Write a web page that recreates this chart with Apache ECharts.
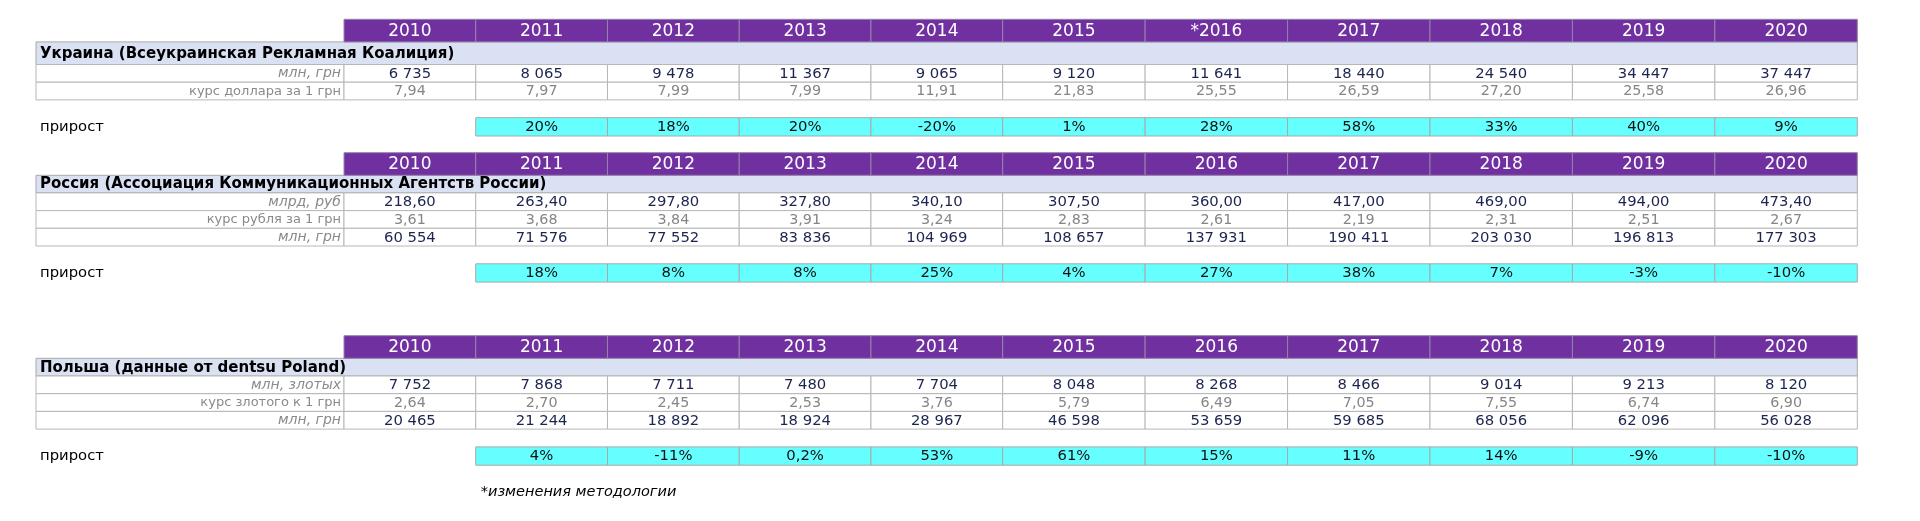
<!DOCTYPE html>
<html lang="ru">

<head>
    <meta charset="UTF-8">
    <style>
    html,
    body {
        height: 100%;
        margin: 0;
        background: #fff;
    }
  </style>
</head>

<body>
<div id="chart" style="width:1920px;height:521px;"></div>
<script src="https://cdn.jsdelivr.net/npm/echarts@6/dist/echarts.min.js"></script>
<script>
    // --- данные ---
    var years = ['2010', '2011', '2012', '2013', '2014', '2015', '2016', '2017', '2018', '2019', '2020'];
    var uaYearLabels = ['2010', '2011', '2012', '2013', '2014', '2015', '*2016', '2017', '2018', '2019', '2020'];

    var uaMln = [6735, 8065, 9478, 11367, 9065, 9120, 11641, 18440, 24540, 34447, 37447];
    var uaRate = [7.94, 7.97, 7.99, 7.99, 11.91, 21.83, 25.55, 26.59, 27.20, 25.58, 26.96];
    var uaGrowth = [null, 20, 18, 20, -20, 1, 28, 58, 33, 40, 9];

    var ruRub = [218.60, 263.40, 297.80, 327.80, 340.10, 307.50, 360.00, 417.00, 469.00, 494.00, 473.40];
    var ruRate = [3.61, 3.68, 3.84, 3.91, 3.24, 2.83, 2.61, 2.19, 2.31, 2.51, 2.67];
    var ruUah = [60554, 71576, 77552, 83836, 104969, 108657, 137931, 190411, 203030, 196813, 177303];
    var ruGrowth = [null, 18, 8, 8, 25, 4, 27, 38, 7, -3, -10];

    var plPln = [7752, 7868, 7711, 7480, 7704, 8048, 8268, 8466, 9014, 9213, 8120];
    var plRate = [2.64, 2.70, 2.45, 2.53, 3.76, 5.79, 6.49, 7.05, 7.55, 6.74, 6.90];
    var plUah = [20465, 21244, 18892, 18924, 28967, 46598, 53659, 59685, 68056, 62096, 56028];
    var plGrowth = [null, 4, -11, 0.2, 53, 61, 15, 11, 14, -9, -10];

    var growthLabel = 'прирост';
    var footnote = '*изменения методологии';

    // --- форматирование ---
    function fmtInt(v) {
        return String(v).replace(/\B(?=(\d{3})+(?!\d))/g, ' ');
    }
    function fmtDec(v) {
        return v.toFixed(2).replace('.', ',');
    }
    function fmtPct(v) {
        return String(v).replace('.', ',') + '%';
    }

    var sections = [
        {
            title: 'Украина (Всеукраинская Рекламная Коалиция)',
            heads: uaYearLabels,
            rows: [
                { label: 'млн, грн', italic: true, values: uaMln, fmt: fmtInt, dark: true },
                { label: 'курс доллара за 1 грн', values: uaRate, fmt: fmtDec }
            ],
            growth: uaGrowth
        },
        {
            title: 'Россия (Ассоциация Коммуникационных Агентств России)',
            heads: years,
            rows: [
                { label: 'млрд, руб', italic: true, values: ruRub, fmt: fmtDec, dark: true },
                { label: 'курс рубля за 1 грн', values: ruRate, fmt: fmtDec },
                { label: 'млн, грн', italic: true, values: ruUah, fmt: fmtInt, dark: true }
            ],
            growth: ruGrowth
        },
        {
            title: 'Польша (данные от dentsu Poland)',
            heads: years,
            rows: [
                { label: 'млн, злотых', italic: true, values: plPln, fmt: fmtInt, dark: true },
                { label: 'курс злотого к 1 грн', values: plRate, fmt: fmtDec },
                { label: 'млн, грн', italic: true, values: plUah, fmt: fmtInt, dark: true }
            ],
            growth: plGrowth
        }
    ];

    // --- разметка (px по вертикали) ---
    var FONT = '"DejaVu Sans", Verdana, sans-serif';
    var sectionTops = [19.3, 152.7, 335.7];
    var titleHeights = [22.6, 17.6, 17.7];
    var HEAD_H = 22.6, ROW_H = 17.7, GAP_H = 17.8, GROW_H = 18.3;
    var SPLIT = 5; // 2010-2014 уже, чем 2015-2020

    var kinds = {
        head: { fill: '#7030a0', stroke: '#9582ab', color: '#fff', font: '17px ' + FONT },
        title: { fill: '#dae1f2', stroke: '#a9a9a9', color: '#000', font: 'bold 15px ' + FONT, align: 'left', pad: 4 },
        label: { fill: '#fff', stroke: '#b7b7b7', color: '#8a8a8a', font: '13px ' + FONT, align: 'right', pad: 3 },
        labelItalic: { fill: '#fff', stroke: '#b7b7b7', color: '#8a8a8a', font: 'italic 14px ' + FONT, align: 'right', pad: 3 },
        dark: { fill: '#fff', stroke: '#b7b7b7', color: '#1c2550', font: '14.8px ' + FONT },
        gray: { fill: '#fff', stroke: '#b7b7b7', color: '#858585', font: '14.3px ' + FONT },
        growth: { fill: '#66ffff', stroke: '#a9a9a9', color: '#111', font: '14.8px ' + FONT },
        plain: { color: '#000', font: '14.8px ' + FONT, align: 'left', pad: 4 },
        note: { color: '#000', font: 'italic 14.5px ' + FONT, align: 'left', pad: 5 }
    };

    var items = { label: [], a: [], b: [], full: [] };

    function yearCell(col, top, h, text, kind) {
        if (col < SPLIT) items.a.push({ col: col, top: top, h: h, text: text, kind: kind });
        else items.b.push({ col: col - SPLIT, top: top, h: h, text: text, kind: kind });
    }

    var lastBottom = 0;
    sections.forEach(function (s, si) {
        var y = sectionTops[si];
        s.heads.forEach(function (t, i) { yearCell(i, y, HEAD_H, t, 'head'); });
        y += HEAD_H;
        items.full.push({ col: 0, top: y, h: titleHeights[si], text: s.title, kind: 'title' });
        y += titleHeights[si];
        s.rows.forEach(function (r) {
            items.label.push({ col: 0, top: y, h: ROW_H, text: r.label, kind: r.italic ? 'labelItalic' : 'label' });
            r.values.forEach(function (v, i) { yearCell(i, y, ROW_H, r.fmt(v), r.dark ? 'dark' : 'gray'); });
            y += ROW_H;
        });
        y += GAP_H;
        items.label.push({ col: 0, top: y, h: GROW_H, text: growthLabel, kind: 'plain' });
        s.growth.forEach(function (v, i) {
            if (v !== null) yearCell(i, y, GROW_H, fmtPct(v), 'growth');
        });
        lastBottom = y + GROW_H;
    });
    items.a.push({ col: 1, top: lastBottom + 17, h: 20, text: footnote, kind: 'note' });

    function makeRender(list) {
        return function (params, api) {
            var it = list[params.dataIndex];
            var st = kinds[it.kind];
            var c = api.coord([api.value(0), api.value(1)]);
            var bw = api.size([1, 0])[0];
            var h = api.size([0, api.value(2)])[1];
            var x0 = c[0] - bw / 2;
            var y0 = c[1];
            var children = [];
            if (st.fill) {
                children.push({
                    type: 'rect',
                    shape: { x: x0, y: y0, width: bw, height: h },
                    style: { fill: st.fill, stroke: st.stroke, lineWidth: 1 }
                });
            }
            var align = st.align || 'center';
            var tx = align === 'left' ? x0 + st.pad : (align === 'right' ? x0 + bw - st.pad : c[0]);
            children.push({
                type: 'text',
                style: {
                    text: it.text, x: tx, y: y0 + h / 2 + 0.5,
                    align: align, verticalAlign: 'middle',
                    font: st.font, fill: st.color
                }
            });
            return { type: 'group', children: children };
        };
    }

    function toData(list) {
        return list.map(function (it) { return [it.col, it.top, it.h]; });
    }

    var grids = [
        { left: 36, width: 1821.3, top: 0, height: 521 },   // строка заголовка
        { left: 36, width: 308, top: 0, height: 521 },      // подписи
        { left: 344, width: 658.7, top: 0, height: 521 },   // 2010-2014
        { left: 1002.7, width: 854.6, top: 0, height: 521 } // 2015-2020
    ];

    var myChart = echarts.init(document.getElementById('chart'));
    myChart.setOption({
        animation: false,
        grid: grids,
        xAxis: [
            { gridIndex: 0, type: 'category', data: [''], show: false },
            { gridIndex: 1, type: 'category', data: [''], show: false },
            { gridIndex: 2, type: 'category', data: years.slice(0, SPLIT), show: false },
            { gridIndex: 3, type: 'category', data: years.slice(SPLIT), show: false }
        ],
        yAxis: [0, 1, 2, 3].map(function (i) {
            return { gridIndex: i, type: 'value', min: 0, max: 521, inverse: true, show: false };
        }),
        series: [
            { type: 'custom', xAxisIndex: 0, yAxisIndex: 0, renderItem: makeRender(items.full), data: toData(items.full) },
            { type: 'custom', xAxisIndex: 1, yAxisIndex: 1, renderItem: makeRender(items.label), data: toData(items.label) },
            { type: 'custom', xAxisIndex: 2, yAxisIndex: 2, renderItem: makeRender(items.a), data: toData(items.a) },
            { type: 'custom', xAxisIndex: 3, yAxisIndex: 3, renderItem: makeRender(items.b), data: toData(items.b) }
        ]
    });
</script>
</body>
</html>
